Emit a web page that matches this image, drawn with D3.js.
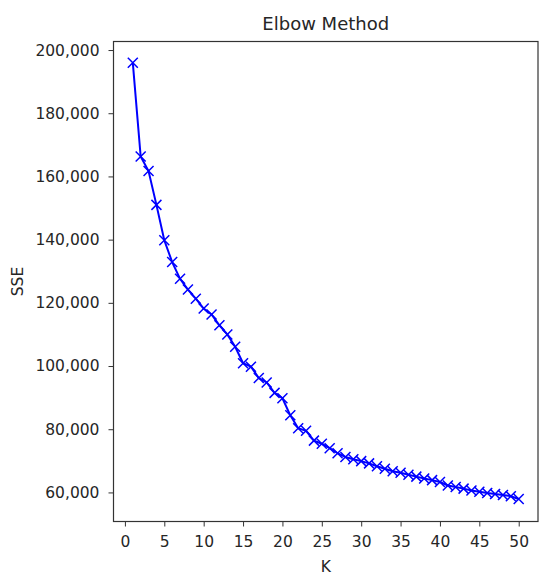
<!DOCTYPE html>
<html>
<head>
<script src="https://d3js.org/d3.v7.min.js"></script>
<style>
  body { margin: 0; background: #fff; }
  text { font-family: "DejaVu Sans", sans-serif; fill: #262626; }
</style>
</head>
<body>
<script>
// values
var ks = d3.range(1, 51);
var sse = [196000, 166300, 161700, 151000, 139800, 132900, 127600, 124200, 121300, 118200,
           116300, 112900, 110000, 106100, 100900, 99800, 96200, 94800, 91500, 89800,
           84400, 80300, 79500, 76400, 75400, 74000, 72400, 71200, 70500, 69900,
           69200, 68300, 67500, 66700, 66200, 65600, 65000, 64400, 63900, 63300,
           62200, 61700, 61200, 60600, 60200, 59800, 59500, 59200, 58800, 57900];
var xTicks = [0, 5, 10, 15, 20, 25, 30, 35, 40, 45, 50];
var yTicks = [60000, 80000, 100000, 120000, 140000, 160000, 180000, 200000];

var width = 550, height = 585;
var plotL = 113.5, plotR = 538, plotT = 41.5, plotB = 521.5;

var svg = d3.select("body").append("svg")
    .attr("width", width)
    .attr("height", height);

// matplotlib style 5% margins
var x = d3.scaleLinear().domain([-1.45, 52.45]).range([plotL, plotR]);
var y = d3.scaleLinear().domain([50800, 202700]).range([plotB, plotT]);

var fmt = d3.format(",");

// x axis
var xa = svg.append("g")
    .attr("transform", "translate(0," + plotB + ")")
    .call(d3.axisBottom(x).tickValues(xTicks).tickSize(5).tickPadding(9).tickFormat(d3.format("d")));
xa.select(".domain").remove();
xa.selectAll("line").attr("stroke", "#333").attr("stroke-width", 1);
xa.selectAll("text").attr("font-size", 15.5).attr("fill", "#262626")
    .attr("font-family", "DejaVu Sans, sans-serif");

// y axis
var ya = svg.append("g")
    .attr("transform", "translate(" + plotL + ",0)")
    .call(d3.axisLeft(y).tickValues(yTicks).tickSize(5).tickPadding(9).tickFormat(fmt));
ya.select(".domain").remove();
ya.selectAll("line").attr("stroke", "#333").attr("stroke-width", 1);
ya.selectAll("text").attr("font-size", 15.5).attr("fill", "#262626")
    .attr("font-family", "DejaVu Sans, sans-serif");

// frame
svg.append("rect")
    .attr("x", plotL).attr("y", plotT)
    .attr("width", plotR - plotL).attr("height", plotB - plotT)
    .attr("fill", "none").attr("stroke", "#333").attr("stroke-width", 1.2);

var pts = ks.map(function (k, i) { return [k, sse[i]]; });

var line = d3.line()
    .x(function (d) { return x(d[0]); })
    .y(function (d) { return y(d[1]); });

svg.append("path")
    .datum(pts)
    .attr("d", line)
    .attr("fill", "none")
    .attr("stroke", "#0000ff")
    .attr("stroke-width", 2);

// x markers
var m = 5;
svg.append("g").selectAll("path")
    .data(pts)
    .enter().append("path")
    .attr("d", function (d) {
        var cx = x(d[0]), cy = y(d[1]);
        return "M" + (cx - m) + "," + (cy - m) + "L" + (cx + m) + "," + (cy + m) +
               "M" + (cx - m) + "," + (cy + m) + "L" + (cx + m) + "," + (cy - m);
    })
    .attr("stroke", "#0000ff")
    .attr("stroke-width", 1.5)
    .attr("fill", "none");

// labels
svg.append("text")
    .attr("x", (plotL + plotR) / 2).attr("y", 30)
    .attr("text-anchor", "middle")
    .attr("font-size", 18)
    .text("Elbow Method");

svg.append("text")
    .attr("x", (plotL + plotR) / 2).attr("y", 572)
    .attr("text-anchor", "middle")
    .attr("font-size", 15.5)
    .text("K");

svg.append("text")
    .attr("transform", "translate(23," + ((plotT + plotB) / 2) + ") rotate(-90)")
    .attr("text-anchor", "middle")
    .attr("font-size", 15.5)
    .text("SSE");
</script>
</body>
</html>
